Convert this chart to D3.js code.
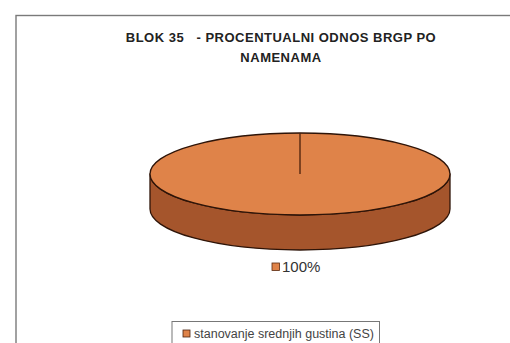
<!DOCTYPE html>
<html>
<head>
<meta charset="utf-8">
<script src="https://cdn.jsdelivr.net/npm/d3@7/dist/d3.min.js"></script>
<style>
  html, body { margin: 0; padding: 0; background: #fff; }
  svg { display: block; }
  text { font-family: "Liberation Sans", Arial, sans-serif; white-space: pre; }
</style>
</head>
<body>
<svg id="chart" width="510" height="343"></svg>
<script>
// Land-use shares of gross floor area (BRGP) for block 35
const categories = ["stanovanje srednjih gustina (SS)"];
const shares = [100];
const sliceColors = ["#DF8349"];
const sideColors = ["#A5552C"];
const titleLines = ["BLOK 35   - PROCENTUALNI ODNOS BRGP PO", "NAMENAMA"];

const svg = d3.select("#chart");

// outer chart frame
svg.append("rect")
  .attr("x", 16).attr("y", 15.5)
  .attr("width", 520).attr("height", 360)
  .attr("fill", "#fff")
  .attr("stroke", "#7a7a7a").attr("stroke-width", 1.4);

// title (slightly flattened bold type)
svg.append("g")
  .selectAll("text")
  .data(titleLines)
  .join("text")
  .attr("x", 281)
  .attr("y", (d, i) => 42 + i * 20)
  .attr("text-anchor", "middle")
  .attr("font-size", 13).attr("font-weight", "bold")
  .attr("fill", "#222")
  .attr("letter-spacing", 0.5)
  .attr("transform", (d, i) => { const y = 42 + i * 20; return `translate(0,${y}) scale(1,0.92) translate(0,${-y})`; })
  .text(d => d);

// 3D pie geometry
const cx = 300, cy = 174, rx = 150, ry = 41, depth = 35;
const pie = d3.pie().sort(null).startAngle(0).endAngle(2 * Math.PI);
const arcs = pie(shares);
const total = d3.sum(shares);
const arc = d3.arc().innerRadius(0).outerRadius(rx);

const g = svg.append("g");
const rim = (ang, dy) => [cx + rx * Math.sin(ang), cy - ry * Math.cos(ang) + dy];

// side wall: front half of each slice's rim, extruded downwards
arcs.forEach((a, i) => {
  const s = Math.max(a.startAngle, Math.PI / 2);
  const e = Math.min(a.endAngle, 3 * Math.PI / 2);
  if (e <= s) return;
  const p0 = rim(s, 0), p1 = rim(e, 0), p2 = rim(e, depth), p3 = rim(s, depth);
  const d = `M${p0[0]},${p0[1]} A${rx},${ry} 0 0 1 ${p1[0]},${p1[1]} L${p2[0]},${p2[1]} A${rx},${ry} 0 0 0 ${p3[0]},${p3[1]} Z`;
  g.append("path")
    .attr("d", d)
    .attr("fill", sideColors[i])
    .attr("stroke", "#2e1408").attr("stroke-width", 1.3)
    .attr("stroke-linejoin", "round");
});

// top faces
g.append("g")
  .attr("transform", `translate(${cx},${cy}) scale(1,${ry / rx})`)
  .selectAll("path")
  .data(arcs)
  .join("path")
  .attr("d", arc)
  .attr("fill", (d, i) => sliceColors[i])
  .attr("stroke", "#2e1408")
  .attr("stroke-width", 1.3)
  .attr("vector-effect", "non-scaling-stroke");

// slice boundary edges from the centre
arcs.forEach(a => {
  const p = rim(a.startAngle, 0);
  g.append("line")
    .attr("x1", cx).attr("y1", cy)
    .attr("x2", p[0]).attr("y2", p[1])
    .attr("stroke", "#4a200c").attr("stroke-width", 1.3);
});

// percentage label
const fmt = d3.format(".0%");
arcs.forEach((a, i) => {
  const lg = svg.append("g").attr("transform", "translate(272,267)");
  lg.append("rect")
    .attr("x", 0).attr("y", -4).attr("width", 7.5).attr("height", 7.5)
    .attr("fill", sliceColors[i]).attr("stroke", "#5a2a10").attr("stroke-width", 0.8);
  lg.append("text")
    .attr("x", 10).attr("y", 5)
    .attr("font-size", 15).attr("fill", "#333")
    .text(fmt(a.value / total));
});

// legend
const legend = svg.append("g");
legend.append("rect")
  .attr("x", 172).attr("y", 321.5)
  .attr("width", 207.5).attr("height", 30)
  .attr("fill", "#fff").attr("stroke", "#777").attr("stroke-width", 1);
categories.forEach((c, i) => {
  legend.append("rect")
    .attr("x", 183).attr("y", 330).attr("width", 7).attr("height", 7)
    .attr("fill", sliceColors[i]).attr("stroke", "#4a2410").attr("stroke-width", 0.8);
  legend.append("text")
    .attr("x", 194).attr("y", 338)
    .attr("font-size", 12.5).attr("fill", "#444")
    .text(c);
});
</script>
</body>
</html>
